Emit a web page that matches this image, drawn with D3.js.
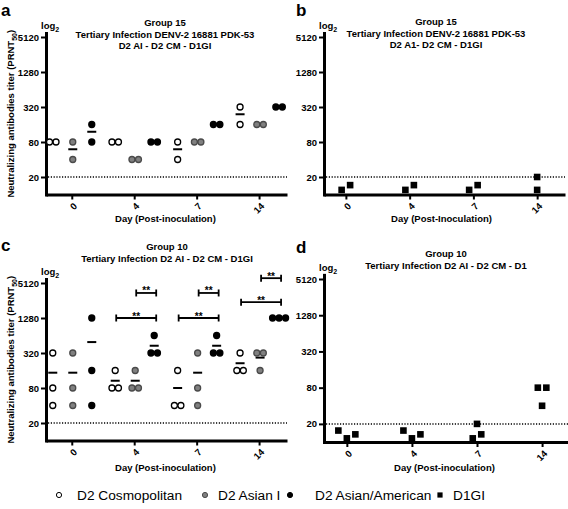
<!DOCTYPE html>
<html><head><meta charset="utf-8">
<script src="https://cdn.jsdelivr.net/npm/d3@7"></script>
<style>
body{margin:0;background:#fff;}
svg{display:block;font-family:"Liberation Sans",Arial,Helvetica,sans-serif;}
</style></head><body>
<svg id="chart" width="568" height="509"></svg>
<script>
// ---------- DATA ----------
const days = ["0", "4", "7", "14"];
const seriesNames = ["D2 Cosmopolitan", "D2 Asian I", "D2 Asian/American", "D1GI"];
const yTickValues = [20, 80, 320, 1280, 5120];
const detectionLimit = 20;

// Panel a (Group 15, D2 viruses)
const aCosmopolitan = [[80, 80], [80, 80], [80, 40], [320, 160]];
const aAsianI = [[80, 40], [40, 40], [80, 80], [160, 160]];
const aAsianAmerican = [[160, 80], [80, 80], [160, 160], [320, 320]];
// Panel b (Group 15, D1GI)
const bD1GI = [[12, 14.5], [12, 14.5], [12, 14.5], [20, 12]];
// Panel c (Group 10, D2 viruses)
const cCosmopolitan = [[320, 80, 40], [160, 80, 80], [160, 40, 40], [320, 160, 160]];
const cAsianI = [[320, 80, 40], [160, 80, 80], [320, 80, 40], [320, 320, 160]];
const cAsianAmerican = [[1280, 160, 40], [640, 320, 320], [640, 320, 320], [1280, 1280, 1280]];
// Panel d (Group 10, D1GI)
const dD1GI = [[15.5, 11.5, 13.4], [15.5, 11.5, 13.4], [11.5, 20, 13.4], [80, 40, 80]];
// Significance brackets (panel c)
const bracketDay = ["4", "4", "7", "7", "14", "14"];
const bracketFrom = [0, 1, 0, 1, 0, 1];
const bracketTo = [2, 2, 2, 2, 2, 2];
const bracketLevel = [1280, 3450, 1280, 3450, 2400, 6200];
const bracketLabel = ["**", "**", "**", "**", "**", "**"];

// Titles
const aTitle = ["Group 15", "Tertiary Infection DENV-2 16881 PDK-53", "D2 AI - D2 CM - D1GI"];
const bTitle = ["Group 15", "Tertiary Infection DENV-2 16881 PDK-53", "D2 A1- D2 CM - D1GI"];
const cTitle = ["Group 10", "Tertiary Infection D2 AI - D2 CM - D1GI"];
const dTitle = ["Group 10", "Tertiary Infection D2 AI - D2 CM - D1"];
const xTitleLower = "Day (Post-inoculation)";
const xTitleUpper = "Day (Post-Inoculation)";

// ---------- STYLE / LAYOUT ----------
const styles = [
  {fill: "#fff", stroke: "#000"},
  {fill: "#808080", stroke: "#4a4a4a"},
  {fill: "#000", stroke: "#000"}
];
const groupOffset = [-19, 1, 20];
const svg = d3.select("#chart");

const panels = [
  {label: "a", lx: 1, ly: 15.5, x0: 46, x1: 287, pad: 0.43, align: 0.48, yb: 194.5, yt: 37, title: aTitle, tcx: 165, tby: [26, 37.5, 49], xt: xTitleLower, xty: 222,
   circles: [aCosmopolitan, aAsianI, aAsianAmerican], squares: null, ylab: true},
  {label: "b", lx: 296, ly: 16, x0: 324, x1: 565, pad: 0.39, align: 0.44, yb: 194.5, yt: 37, title: bTitle, tcx: 436, tby: [25, 36.5, 48], xt: xTitleUpper, xty: 222,
   circles: null, squares: bD1GI, ylab: false},
  {label: "c", lx: 1, ly: 251, x0: 46, x1: 287, pad: 0.43, align: 0.48, yb: 440.5, yt: 283, title: cTitle, tcx: 167, tby: [250, 261.5], xt: xTitleLower, xty: 471,
   circles: [cCosmopolitan, cAsianI, cAsianAmerican], squares: null, ylab: true, brackets: true},
  {label: "d", lx: 296, ly: 253, x0: 324, x1: 570, pad: 0.39, align: 0.45, yb: 442, yt: 279, title: dTitle, tcx: 446, tby: [257, 268.5], xt: xTitleLower, xty: 471,
   circles: null, squares: dD1GI, ylab: false}
];

function dodge(vals, y, T, s) {
  const ys = vals.map(v => y(v));
  const sorted = vals.map((v, i) => i).sort((a, b) => ys[a] - ys[b]);
  const clusters = [];
  let cur = [sorted[0]];
  for (let k = 1; k < sorted.length; k++) {
    if (ys[sorted[k]] - ys[sorted[k - 1]] < T) cur.push(sorted[k]);
    else { clusters.push(cur); cur = [sorted[k]]; }
  }
  clusters.push(cur);
  const off = new Array(vals.length).fill(0);
  clusters.forEach(c => { c.sort((a, b) => a - b); c.forEach((i, j) => off[i] = (j - (c.length - 1) / 2) * s); });
  return off;
}

panels.forEach(p => {
  const g = svg.append("g");
  const per = (p.yb - p.yt) / Math.log2(5120 / 10);
  const yTopVal = 6000;
  const y = d3.scaleLog().base(2).domain([10, yTopVal]).range([p.yb, p.yt - per * Math.log2(yTopVal / 5120)]);
  const x = d3.scalePoint().domain(days).range([p.x0, p.x1]).padding(p.pad).align(p.align);

  // panel label
  g.append("text").attr("x", p.lx).attr("y", p.ly).attr("font-size", 17).attr("font-weight", "bold").text(p.label);

  // title
  p.title.forEach((t, i) => g.append("text").attr("x", p.tcx).attr("y", p.tby[i]).attr("text-anchor", "middle")
    .attr("font-size", 9.5).attr("font-weight", "bold").text(t));

  // detection limit dotted line
  g.append("line").attr("x1", p.x0 + 2).attr("x2", p.x1).attr("y1", y(detectionLimit)).attr("y2", y(detectionLimit))
    .attr("stroke", "#000").attr("stroke-width", 1.5).attr("stroke-dasharray", "1.2,1.6");

  // axes
  const yAxis = d3.axisLeft(y).tickValues(yTickValues).tickFormat(d3.format("d")).tickSize(5).tickSizeOuter(0).tickPadding(2);
  const ya = g.append("g").attr("transform", `translate(${p.x0},0)`).call(yAxis);
  ya.select(".domain").attr("stroke-width", 3).attr("stroke-linecap", "square");
  ya.selectAll(".tick line").attr("stroke-width", 2);
  ya.selectAll(".tick text").attr("font-size", 9.5).attr("font-weight", "bold").attr("font-family", "Liberation Sans, Arial, sans-serif").attr("fill", "#000");

  const xAxis = d3.axisBottom(x).tickSize(5).tickSizeOuter(0);
  const xa = g.append("g").attr("transform", `translate(0,${p.yb})`).call(xAxis);
  xa.select(".domain").attr("stroke-width", 3);
  xa.selectAll(".tick line").attr("stroke-width", 2);
  xa.selectAll(".tick text").attr("font-size", 9.5).attr("font-weight", "bold").attr("font-family", "Liberation Sans, Arial, sans-serif").attr("fill", "#000")
    .attr("x", 0).attr("y", 0).attr("dy", "0.35em").attr("text-anchor", "end").attr("transform", "translate(3,10) rotate(-45)");

  // log2 label
  const lg = g.append("text").attr("x", p.x0 - 5).attr("y", y(5120) - 8).attr("font-size", 9.5).attr("font-weight", "bold");
  lg.append("tspan").text("log");
  lg.append("tspan").attr("font-size", 7).attr("dy", 2.5).text("2");

  // x title
  g.append("text").attr("x", (x(days[0]) + x(days[days.length - 1])) / 2).attr("y", p.xty).attr("text-anchor", "middle")
    .attr("font-size", 9.5).attr("font-weight", "bold").text(p.xt);

  // y title
  if (p.ylab) {
    const cy = (p.yb + y(5120)) / 2 - 2;
    const yt = g.append("text").attr("transform", `translate(14,${cy}) rotate(-90)`).attr("text-anchor", "middle")
      .attr("font-size", 9.5).attr("font-weight", "bold");
    yt.append("tspan").text("Neutralizing antibodies titer (PRNT");
    yt.append("tspan").attr("font-size", 7).attr("dy", 2.5).text("50");
    yt.append("tspan").attr("dy", -2.5).text(")");
  }

  // circle series: mean bars then points
  if (p.circles) {
    p.circles.forEach((series, si) => {
      series.forEach((vals, di) => {
        const cx = x(days[di]) + groupOffset[si];
        const m = d3.mean(vals);
        g.append("line").attr("x1", cx - 4.5).attr("x2", cx + 4.5).attr("y1", y(m)).attr("y2", y(m))
          .attr("stroke", "#000").attr("stroke-width", 2);
      });
    });
    p.circles.forEach((series, si) => {
      series.forEach((vals, di) => {
        const cx = x(days[di]) + groupOffset[si];
        const off = dodge(vals, y, 6, 6.5);
        g.selectAll(null).data(vals).enter().append("circle")
          .attr("cx", (v, i) => cx + off[i]).attr("cy", v => y(v)).attr("r", 3)
          .attr("fill", styles[si].fill).attr("stroke", styles[si].stroke).attr("stroke-width", 1.3);
      });
    });
  }
  // square series
  if (p.squares) {
    p.squares.forEach((vals, di) => {
      const cx = x(days[di]);
      const off = dodge(vals, y, 9, 8.5);
      g.selectAll(null).data(vals).enter().append("rect")
        .attr("x", (v, i) => cx + off[i] - 3.3).attr("y", v => y(v) - 3.3).attr("width", 6.6).attr("height", 6.6).attr("fill", "#000");
    });
  }
  // brackets
  if (p.brackets) {
    bracketDay.forEach((d, i) => {
      const xa1 = x(d) + groupOffset[bracketFrom[i]] + 1;
      const xa2 = x(d) + groupOffset[bracketTo[i]] + 2;
      const yy = y(bracketLevel[i]);
      const bg = g.append("g").attr("stroke", "#000").attr("stroke-width", 1.8);
      bg.append("line").attr("x1", xa1).attr("x2", xa2).attr("y1", yy).attr("y2", yy);
      bg.append("line").attr("x1", xa1).attr("x2", xa1).attr("y1", yy - 3.5).attr("y2", yy + 3.5);
      bg.append("line").attr("x1", xa2).attr("x2", xa2).attr("y1", yy - 3.5).attr("y2", yy + 3.5);
      g.append("text").attr("x", (xa1 + xa2) / 2).attr("y", yy + 1.5).attr("text-anchor", "middle")
        .attr("font-size", 10).attr("font-weight", "bold").text(bracketLabel[i]);
    });
  }
});

// ---------- LEGEND ----------
const legendX = [59, 205, 290, 440];
const legendTextX = [77, 218, 315, 453];
const lgY = 495;
const leg = svg.append("g");
seriesNames.forEach((name, i) => {
  if (i < 3) {
    leg.append("circle").attr("cx", legendX[i]).attr("cy", lgY).attr("r", 2.6)
      .attr("fill", styles[i].fill).attr("stroke", styles[i].stroke).attr("stroke-width", 1);
  } else {
    leg.append("rect").attr("x", legendX[i] - 2.6).attr("y", lgY - 2.6).attr("width", 5.2).attr("height", 5.2).attr("fill", "#000");
  }
  leg.append("text").attr("x", legendTextX[i]).attr("y", lgY + 4.8).attr("font-size", 13.7).text(name);
});
</script>
</body></html>
